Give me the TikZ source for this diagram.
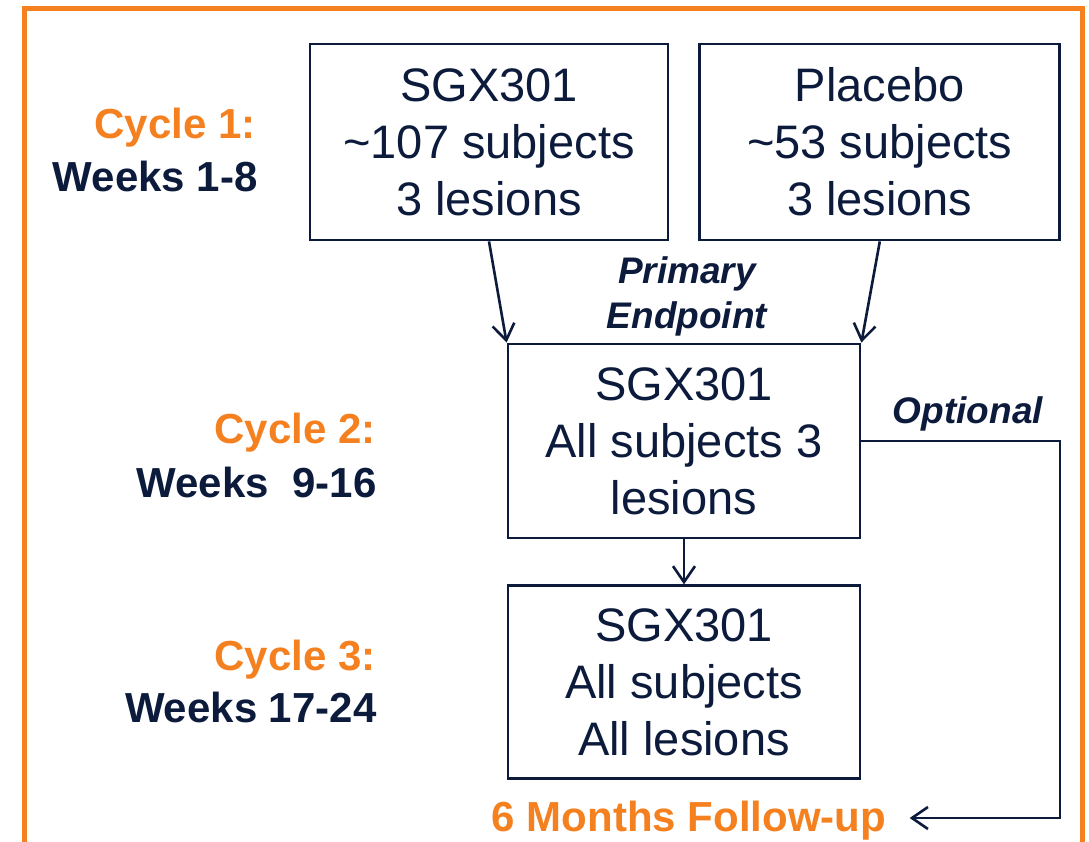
\documentclass[tikz,border=0pt]{standalone}
\usepackage{fontspec}
\setmainfont{Liberation Sans}
\usetikzlibrary{positioning,arrows.meta}
\definecolor{navy}{RGB}{12,27,60}
\definecolor{trialorange}{RGB}{244,128,32}

\begin{document}
\begin{tikzpicture}[x=1pt,y=-1pt,
	arm/.style={draw=navy,line width=2.8pt,minimum width=358pt,minimum height=196pt,inner sep=0pt,align=center,text=navy,font=\fontsize{47}{57}\selectfont},
	cyc/.style={anchor=east,text=trialorange,font=\fontsize{42}{50}\selectfont\bfseries},
	wk/.style={anchor=east,text=navy,font=\fontsize{42}{50}\selectfont\bfseries},
	note/.style={text=navy,align=center,font=\fontsize{37}{45}\selectfont\bfseries\itshape},
	flow/.style={draw=navy,line width=2.6pt,-{Straight Barb[length=16pt,width=22pt]}}]
	\useasboundingbox (0,0) rectangle (1089,842);
	\draw[trialorange,line width=5pt] (24.5,870) -- (24.5,9) -- (1082,9) -- (1082,870);
	
	\node[arm] (sgx1) at (489,142) {SGX301\\\textasciitilde107 subjects\\3 lesions};
	\node[arm,right=29pt of sgx1,minimum width=360pt] (plc) {Placebo\\\textasciitilde53 subjects\\3 lesions};
	\node[arm,minimum width=352pt,minimum height=194pt] (cyc2) at (684,441) {SGX301\\All subjects 3\\lesions};
	\node[arm,minimum width=352pt,minimum height=193pt,below=45pt of cyc2] (cyc3) {SGX301\\All subjects\\All lesions};
	
	\node[cyc] (c1) at (259,128) {Cycle 1:};
	\node[wk] (w1) at (261,176) {Weeks 1-8};
	\node[cyc] (c2) at (379,433) {Cycle 2:};
	\node[wk] (w2) at (380,482) {Weeks\ \ 9-16};
	\node[cyc] (c3) at (379,660) {Cycle 3:};
	\node[wk] (w3) at (380,707) {Weeks 17-24};
	
	\node[note] (prim) at (687,296) {Primary\\Endpoint};
	\node[note] (opt) at (968,414) {Optional};
	\node[text=trialorange,font=\fontsize{42}{50}\selectfont\bfseries] (fu) at (689,821) {6 Months Follow-up};
	
	\coordinate (bend) at (1060,818);
	\draw[flow] (sgx1.south) -- (cyc2.north west);
	\draw[flow] (plc.south) -- (cyc2.north east);
	\draw[flow] (cyc2.south) -- (cyc3.north);
	\draw[flow] (cyc2.east) -| (bend) -- ([xshift=20pt]bend -| fu.east);
\end{tikzpicture}
\end{document}
